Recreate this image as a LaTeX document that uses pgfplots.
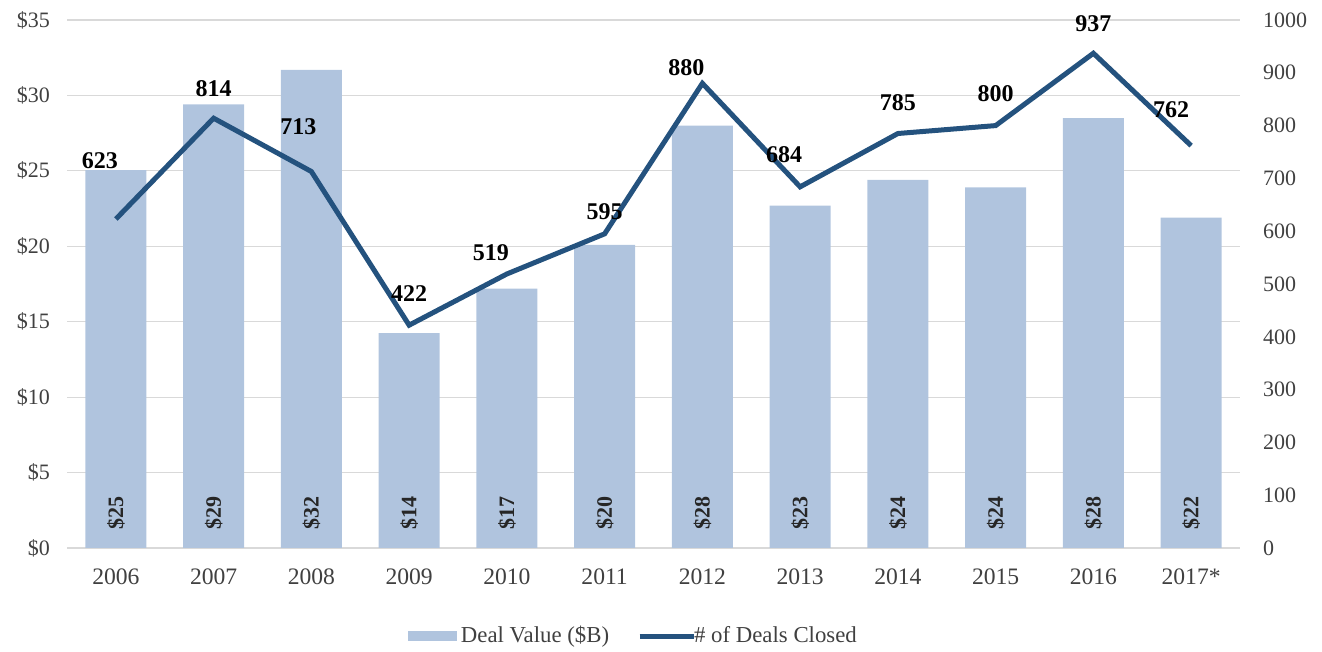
\documentclass[border=0pt]{standalone}
\usepackage{pgfplots}
\pgfplotsset{compat=1.18}
\usepackage{pgfplotstable}
\usepackage{fontspec}
\setmainfont{Liberation Serif}
\definecolor{barblue}{RGB}{176,196,222}
\definecolor{lineblue}{RGB}{36,82,126}
\definecolor{gridgray}{RGB}{217,217,217}
\definecolor{txt}{RGB}{64,64,64}

\pgfplotstableread{
x year value lbl
0 2006 25.05 {\$25}
1 2007 29.4 {\$29}
2 2008 31.7 {\$32}
3 2009 14.25 {\$14}
4 2010 17.2 {\$17}
5 2011 20.1 {\$20}
6 2012 28.0 {\$28}
7 2013 22.7 {\$23}
8 2014 24.4 {\$24}
9 2015 23.9 {\$24}
10 2016 28.5 {\$28}
11 2017 21.9 {\$22}
}\bardata

\pgfplotstableread{
x deals dx dy
0 623 -8 29
1 814 0 15
2 713 -6.5 22.5
3 422 0 16
4 519 -8 10.5
5 595 0 11
6 880 -8 8
7 684 -8 16
8 785 0 15.5
9 800 0 16
10 937 0 15
11 762 -10 18
}\linedata

\begin{document}
\begin{tikzpicture}
\pgfplotsset{
  common/.style={
    scale only axis,
    width=586.5pt, height=264pt,
    at={(0,0)}, anchor=south west,
    xmin=-0.5, xmax=11.5,
    axis line style={draw=none},
    major tick length=0pt,
    ticklabel style={font=\fontsize{11}{13}\selectfont, text=txt},
    /pgf/number format/assume math mode=true,
    /pgf/number format/1000 sep={},
  }
}
\begin{axis}[common,
  ybar, bar width=30.5pt,
  ymin=0, ymax=35,
  ytick={0,5,10,15,20,25,30,35},
  yticklabels={\$0,\$5,\$10,\$15,\$20,\$25,\$30,\$35},
  ymajorgrids, grid style={gridgray, line width=0.6pt},
  xtick={0,...,11},
  xticklabels={2006,2007,2008,2009,2010,2011,2012,2013,2014,2015,2016,2017*},
  xticklabel style={yshift=-7pt, font=\fontsize{11.8}{13}\selectfont},
  yticklabel style={xshift=-5pt},
  nodes near coords,
  point meta=explicit symbolic,
  visualization depends on={rawy \as \rawy},
  every node near coord/.append style={
    shift={(axis direction cs:0,-\rawy)}, yshift=17.5pt, rotate=90, anchor=center,
    font=\fontsize{11}{12}\selectfont\bfseries, text=black!85},
]
\addplot[fill=barblue, draw=none] table[x=x, y=value, meta=lbl] {\bardata};
\end{axis}

\begin{axis}[common,
  ymin=0, ymax=1000,
  ytick={0,100,...,1000},
  axis y line*=right,
  hide x axis,
  yticklabel style={anchor=west, xshift=8pt},
  legend columns=2,
  legend style={draw=none, fill=none, at={(0.4838,-0.1667)}, anchor=center,
    font=\fontsize{11.4}{13}\selectfont, text=txt,
    /tikz/every even column/.append style={column sep=12pt}},
]
\addlegendimage{area legend, legend image code/.code={\fill[barblue] (0pt,-2.4pt) rectangle (24pt,2.4pt);}}
\addlegendentry{Deal Value (\$B)}
\addplot[lineblue, line width=2.5pt, line join=miter,
  nodes near coords, point meta=explicit,
  visualization depends on={\thisrow{dx} \as \dx},
  visualization depends on={\thisrow{dy} \as \dy},
  every node near coord/.append style={anchor=center, xshift=\dx pt, yshift=\dy pt,
    font=\fontsize{12}{13}\selectfont\bfseries, text=black},
  legend image code/.code={\draw[lineblue, line width=2.5pt] (0pt,0pt) -- (27pt,0pt);},
] table[x=x, y=deals, meta=deals] {\linedata};
\addlegendentry{\hspace{-3pt}\# of Deals Closed}
\end{axis}
\pgfresetboundingbox
\path[use as bounding box] (-33.5pt,-52pt) rectangle (627.5pt,274pt);
\end{tikzpicture}
\end{document}
